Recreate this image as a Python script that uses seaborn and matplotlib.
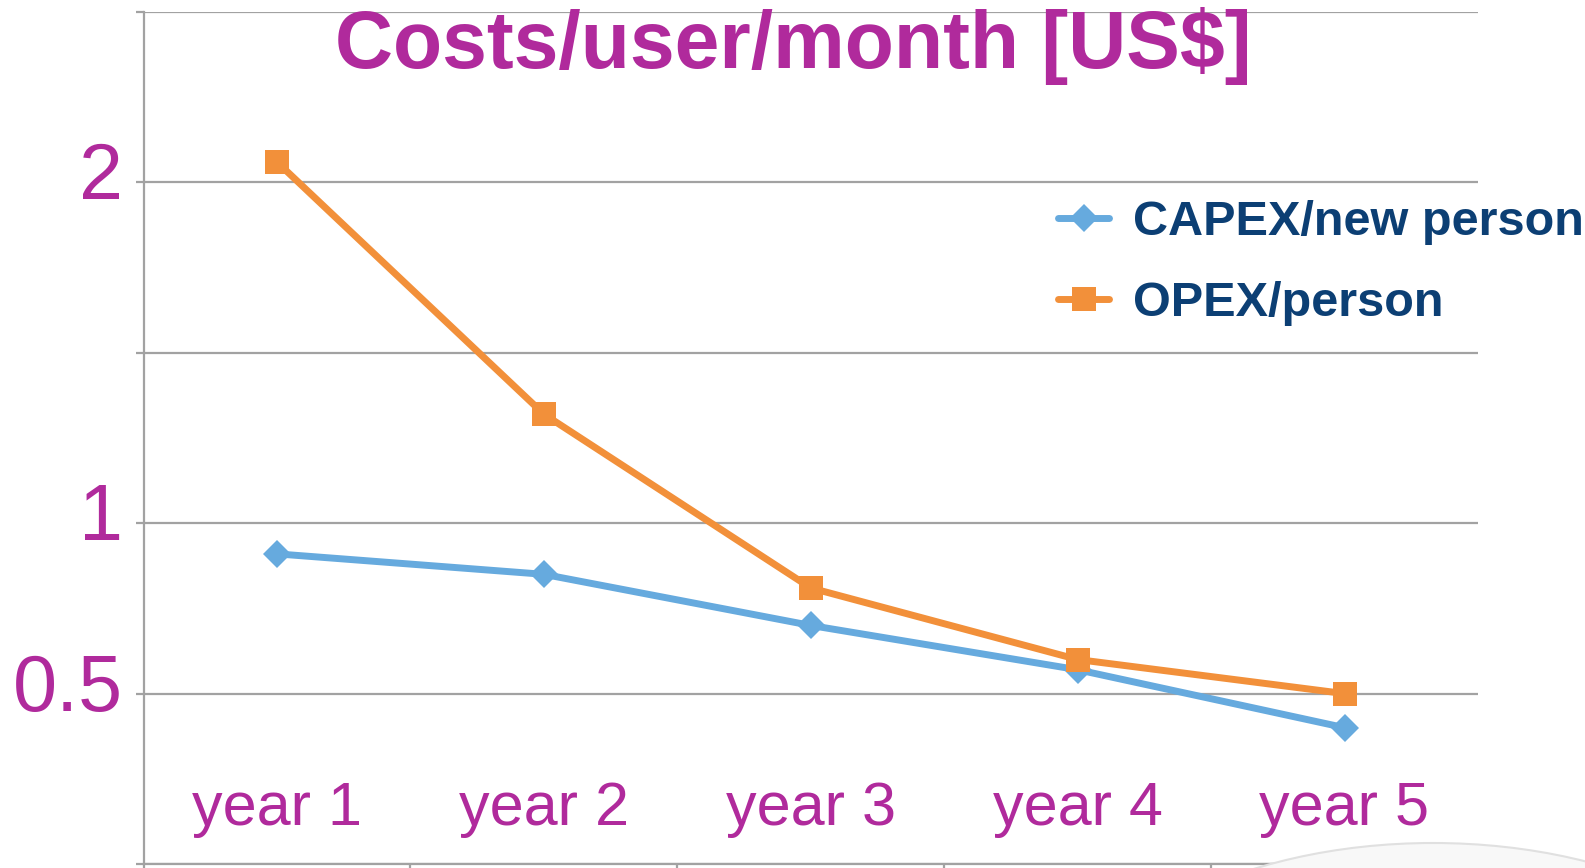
import matplotlib
matplotlib.use("Agg")
import matplotlib.pyplot as plt
import matplotlib.ticker as mticker
import matplotlib.transforms as mtransforms
from matplotlib.patches import Ellipse
import numpy as np
import pandas as pd
import seaborn as sns

# data
years = ["year 1", "year 2", "year 3", "year 4", "year 5"]
capex = [0.91, 0.85, 0.70, 0.57, 0.40]
opex = [2.06, 1.32, 0.81, 0.60, 0.50]
series = ["CAPEX/new person", "OPEX/person"]
grid_vals = [0, 0.5, 1, 1.5, 2, 2.5]
shown_vals = [0.5, 1, 2]
title = "Costs/user/month [US$]"

magenta = "#b02a9c"
navy = "#0c3f74"
grey = "#a2a2a2"
colors = {series[0]: "#66aade", series[1]: "#f2903a"}
markers = {series[0]: "D", series[1]: "s"}
msizes = {series[0]: 14, series[1]: 17}

df = pd.DataFrame({
    "year": years * 2,
    "cost": capex + opex,
    "series": [series[0]] * len(years) + [series[1]] * len(years),
})

sns.set_style("white")
plt.rcParams["font.family"] = ["Liberation Sans", "DejaVu Sans"]

W, H = 1585, 868
fig = plt.figure(figsize=(W / 100, H / 100), dpi=100)
fig.patch.set_facecolor("white")
x0, x1, ytop, ybot = 143.5, 1478, 12, 864
ax = fig.add_axes([x0 / W, 1 - ybot / H, (x1 - x0) / W, (ybot - ytop) / H])

for s in series:
    sub = df[df["series"] == s]
    sns.lineplot(data=sub, x="year", y="cost", ax=ax, color=colors[s], marker=markers[s],
                 markersize=msizes[s], markeredgewidth=0, linewidth=5, label=s, sort=False)

ax.set_xlim(-0.5, len(years) - 0.5)
ax.set_ylim(0, 2.5)
ax.set_xlabel("")
ax.set_ylabel("")

# y axis: gridlines at every 0.5, labels only on some
ax.yaxis.set_major_locator(mticker.FixedLocator(grid_vals))
ax.set_yticklabels([("%g" % v) if v in shown_vals else "" for v in grid_vals])
ax.yaxis.grid(True, color=grey, linewidth=1.6)
ax.tick_params(axis="y", left=True, length=6, width=1.6, color=grey, pad=9,
               labelsize=57, labelcolor=magenta)
off = mtransforms.ScaledTranslation(0, 12 / 100, fig.dpi_scale_trans)
for lab in ax.get_yticklabels():
    lab.set_transform(lab.get_transform() + off)

# x axis: labels inside the plot, ticks at category boundaries
ax.set_xticks(range(len(years)))
ax.set_xticklabels(years)
ax.set_xticks(np.arange(-0.5, len(years), 1.0), minor=True)
ax.tick_params(axis="x", which="major", length=0, pad=-60, labelsize=44, labelcolor=magenta)
ax.tick_params(axis="x", which="minor", bottom=True, length=10, width=1.6, color=grey)

for side in ["top", "right"]:
    ax.spines[side].set_visible(False)
for side in ["left", "bottom"]:
    ax.spines[side].set_color(grey)
    ax.spines[side].set_linewidth(1.6)

handles, labels = ax.get_legend_handles_labels()
leg = ax.legend(handles, labels, loc="upper left", bbox_to_anchor=(1058 / W, 1 - 200 / H),
                bbox_transform=fig.transFigure, frameon=False,
                prop={"weight": "bold", "size": 35}, labelcolor=navy,
                handlelength=1.05, handletextpad=0.5, labelspacing=0.75,
                borderpad=0, borderaxespad=0)

fig.text(793 / W, 1 - 68 / H, title, ha="center", va="baseline", fontsize=58,
         fontweight="bold", color=magenta)

# faint round shape in the lower right corner
fig.patches.append(Ellipse((1433 / W, 1 - 1043 / H), 728 / W, 400 / H,
                           transform=fig.transFigure, facecolor="#f8f8f8",
                           edgecolor="#e0e0e0", linewidth=1.5, zorder=5))

fig.savefig("out.png", dpi=100)
